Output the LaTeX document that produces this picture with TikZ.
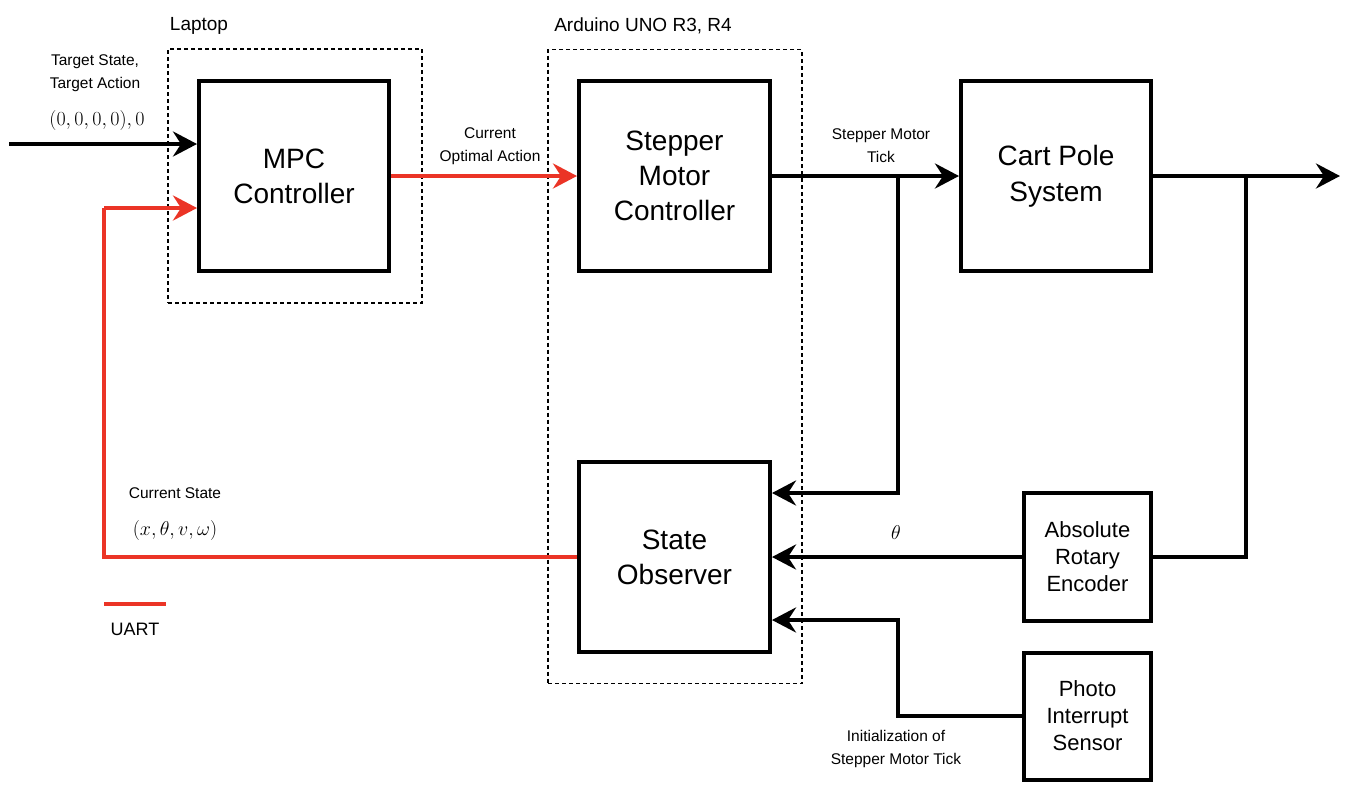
\documentclass[tikz,border=0pt]{standalone}
\usepackage{fix-cm}
\usepackage[no-math]{fontspec}
\setmainfont{Liberation Sans}
\usetikzlibrary{arrows.meta}
\definecolor{uartred}{RGB}{235,52,38}
\begin{document}
\begin{tikzpicture}[x=1pt,y=-1pt,
  blk/.style={draw, line width=4pt, minimum width=190pt, minimum height=190pt,
    align=center, inner sep=0pt, font=\fontsize{28}{35}\selectfont},
  sblk/.style={draw, line width=4pt, minimum width=127pt, minimum height=127pt,
    align=center, inner sep=0pt, font=\fontsize{22}{27}\selectfont},
  grp/.style={draw, line width=1.2pt, dash pattern=on 4pt off 3pt, inner sep=0pt},
  lbl/.style={align=center, inner sep=0pt, font=\fontsize{15.5}{23}\selectfont},
  ttl/.style={inner sep=0pt, font=\fontsize{19}{23}\selectfont},
  mth/.style={inner sep=0pt, font=\fontsize{20}{24}\selectfont},
  wire/.style={line width=4pt},
  arr/.style={line width=4pt, -{Stealth[length=24pt, width=25pt, inset=8pt]}},
  redwire/.style={wire, draw=uartred},
  redarr/.style={arr, draw=uartred, fill=uartred},
]
\useasboundingbox (0,0) rectangle (1352,796);

% groups
\node[grp, minimum width=254pt, minimum height=254pt] (laptop) at (295,176) {};
\node[grp, minimum width=254pt, minimum height=634pt] (arduino) at (675,366.5) {};
\node[ttl] (laptoplbl) at (199,26) {Laptop};
\node[ttl] (ardlbl) at (643,26) {Arduino UNO R3, R4};

% blocks
\node[blk] (mpc) at (294,176) {MPC\\Controller};
\node[blk, minimum width=191pt] (smc) at (674.5,176) {Stepper\\Motor\\Controller};
\node[blk, font=\fontsize{28}{36}\selectfont] (cps) at (1056,176) {Cart Pole\\System};
\node[blk, minimum width=191pt] (obs) at (674.5,557) {State\\Observer};
\node[sblk, minimum height=128pt] (enc) at (1087.5,557) {Absolute\\Rotary\\Encoder};
\node[sblk] (pis) at (1087.5,716) {Photo\\Interrupt\\Sensor};

% coordinates
\coordinate (in1) at (9,144);
\coordinate (ret) at (104,208);
\coordinate (j1) at (898,176);
\coordinate (j1b) at (898,493);
\coordinate (j2) at (1246,176);
\coordinate (out) at (1340,176);
\coordinate (j3) at (898,620);
\coordinate (ua) at (104,604);
\coordinate (ub) at (166,604);

% connectors
\draw[arr] (in1) -- (in1 -| mpc.west);
\draw[redwire] (obs.west) -| (ret);
\draw[redarr] (ret) -- (ret -| mpc.west);
\draw[redarr] (mpc.east) -- (smc.west);
\draw[arr] (smc.east) -- (cps.west);
\draw[arr] (cps.east) -- (out);
\draw[arr] (j1) |- (j1b) -- (j1b -| obs.east);
\draw[wire] (j2) |- (enc.east);
\draw[arr] (enc.west) -- (enc.west -| obs.east);
\draw[arr] (pis.west) -| (j3) -- (j3 -| obs.east);
\draw[redwire] (ua) -- (ub);

% labels
\node[lbl] (tgt) at (95,73) {Target State,\\Target Action};
\node[mth] (tgtm) at (97,120) {$(0,0,0,0),0$};
\node[lbl] (coa) at (490,146) {Current\\Optimal Action};
\node[lbl] (smt) at (881,146) {Stepper Motor\\Tick};
\node[mth] (th) at (896,533) {$\theta$};
\node[lbl] (cs) at (175,493) {Current State};
\node[mth] (csm) at (175,530) {$(x,\theta,v,\omega)$};
\node[lbl] (init) at (896,749) {Initialization of\\Stepper Motor Tick};
\node[inner sep=0pt, font=\fontsize{18}{22}\selectfont] (uart) at (135,629) {UART};
\end{tikzpicture}
\end{document}
